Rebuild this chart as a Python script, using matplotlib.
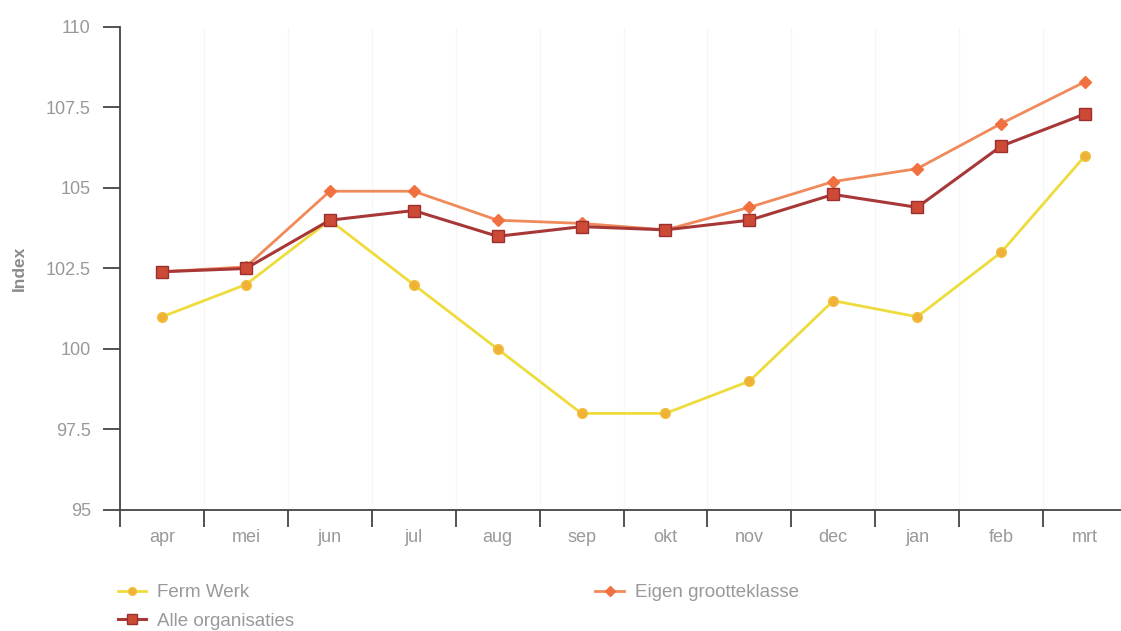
import matplotlib
matplotlib.use("Agg")
import matplotlib.pyplot as plt
import numpy as np

months = ["apr", "mei", "jun", "jul", "aug", "sep", "okt", "nov", "dec", "jan", "feb", "mrt"]
ferm_werk = [101.0, 102.0, 104.0, 102.0, 100.0, 98.0, 98.0, 99.0, 101.5, 101.0, 103.0, 106.0]
eigen_grootteklasse = [102.4, 102.55, 104.9, 104.9, 104.0, 103.9, 103.7, 104.4, 105.2, 105.6, 107.0, 108.3]
alle_organisaties = [102.4, 102.5, 104.0, 104.3, 103.5, 103.8, 103.7, 104.0, 104.8, 104.4, 106.3, 107.3]
yticks = [95, 97.5, 100, 102.5, 105, 107.5, 110]
ytick_labels = ["95", "97.5", "100", "102.5", "105", "107.5", "110"]

plt.rcParams['font.family'] = ['Liberation Sans', 'DejaVu Sans']

fig = plt.figure(figsize=(11.21, 6.31), dpi=100)
ax = fig.add_axes([120/1121, (631-510)/631, (1127-120)/1121, (510-27)/631])

x = np.arange(len(months))
ax.plot(x, ferm_werk, color="#eedc3c", lw=2, marker="o", ms=7,
        mfc="#f0b236", mec="#f0c040", label="Ferm Werk", zorder=3)
ax.plot(x, eigen_grootteklasse, color="#f08a5a", lw=2, marker="D", ms=6,
        mfc="#f07040", mec="#f07040", label="Eigen grootteklasse", zorder=4)
ax.plot(x, alle_organisaties, color="#a83838", lw=2.2, marker="s", ms=9,
        mfc="#cc4a36", mec="#9c3030", label="Alle organisaties", zorder=5)

ax.set_xlim(-0.5, len(months) - 0.5)
ax.set_ylim(95, 110)
ax.set_yticks(yticks)
ax.set_yticklabels(ytick_labels)
ax.set_xticks(x)
ax.set_xticklabels(months)
ax.set_xticks(np.arange(len(months) + 1) - 0.5, minor=True)
ax.tick_params(axis="x", which="major", length=0, pad=14, labelsize=13, labelcolor="#999999")
ax.tick_params(axis="x", which="minor", length=12, width=1.3, color="#444444", direction="out")
ax.tick_params(axis="y", length=12, width=1.3, color="#444444", pad=9, labelsize=13, labelcolor="#999999")

for b in np.arange(len(months) + 1) - 0.5:
    ax.axvline(b, color="#f7f7f7", lw=1, zorder=0)

for s in ["top", "right"]:
    ax.spines[s].set_visible(False)
for s in ["left", "bottom"]:
    ax.spines[s].set_color("#444444")
    ax.spines[s].set_linewidth(1.3)

ax.set_ylabel("Index", fontsize=12.5, fontweight="bold", color="#8a8a8a", labelpad=14)

handles, labels = ax.get_legend_handles_labels()
order = [0, 2, 1]
leg = fig.legend([handles[i] for i in order], [labels[i] for i in order],
                 ncol=2, loc="upper left", bbox_to_anchor=(118/1121, 1 - 584/631),
                 frameon=False, fontsize=13.5, labelcolor="#999999",
                 handlelength=1.5, handletextpad=0.6, columnspacing=16.05,
                 labelspacing=0.6, borderaxespad=0, borderpad=0, markerscale=0.8)

fig.savefig("out.png", dpi=100)
